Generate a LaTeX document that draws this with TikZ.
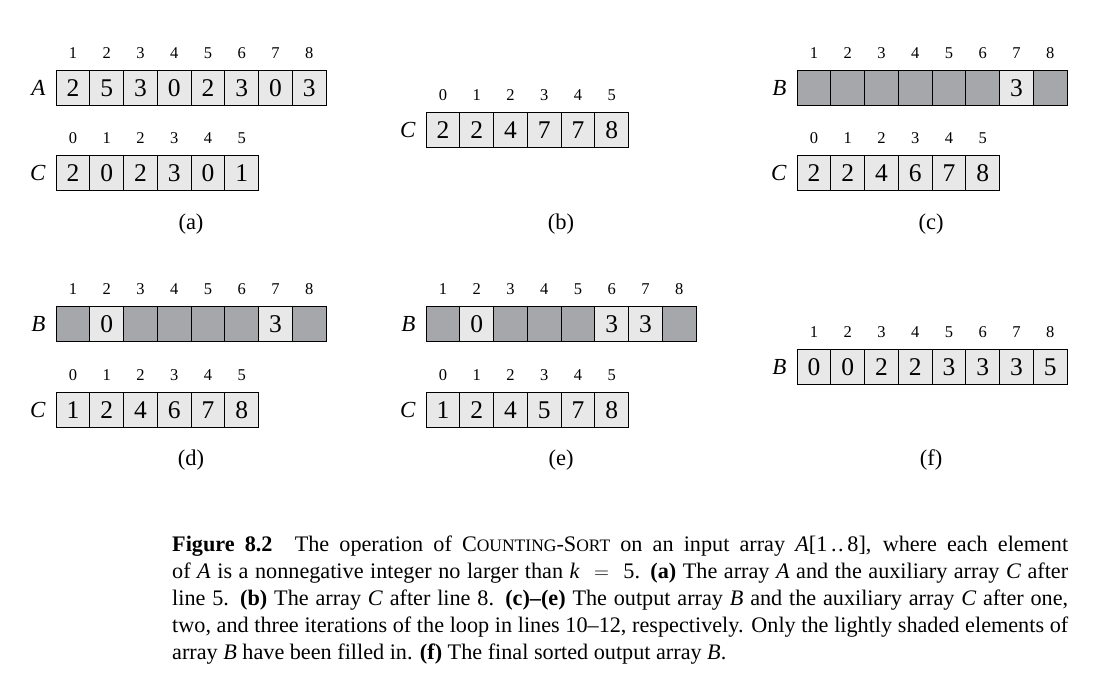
\documentclass[tikz,border=0pt]{standalone}
\usepackage{fontspec}
\setmainfont{Liberation Serif}
\usetikzlibrary{positioning}
\definecolor{cellfill}{HTML}{E8E8E8}
\definecolor{blankfill}{HTML}{A6A7AA}
\newcommand{\smcap}[1]{{\fontsize{17.5}{17.5}\selectfont #1}}

\begin{document}
\begin{tikzpicture}[
    x=1pt, y=-1pt,
    cell/.style={rectangle, draw, line width=0.8pt, fill=cellfill, minimum width=33.75pt, minimum height=34.5pt, inner sep=0pt, text height=17pt, text depth=0pt, font=\fontsize{25.5}{25.5}\selectfont},
    blank/.style={cell, fill=blankfill},
    idx/.style={inner sep=0pt, text height=11pt, text depth=0pt, font=\fontsize{16.5}{16.5}\selectfont},
    arrname/.style={inner sep=0pt, font=\fontsize{23}{23}\selectfont\itshape},
    sublabel/.style={inner sep=0pt, font=\fontsize{22.5}{22.5}\selectfont}
]
\useasboundingbox (0,0) rectangle (1113,688);

% (a) input array A and counts C
\foreach \v [count=\i] in {2,5,3,0,2,3,0,3}
  \node (aA\i) [cell] at ({56+33.75*(\i-0.5)},88) {\v};
\foreach \i in {1,...,8}
  \node [idx, above=12pt of aA\i.north] {\i};
\node [arrname, left=10pt of aA1] {A};
\foreach \v [count=\i from 0] in {2,0,2,3,0,1}
  \node (aC\i) [cell] at ({56+33.75*(\i+0.5)},173) {\v};
\foreach \i in {0,...,5}
  \node [idx, above=12pt of aC\i.north] {\i};
\node [arrname, left=10pt of aC0] {C};
\node (suba) [sublabel] at (191,224) {(a)};

% (b) running sums in C
\foreach \v [count=\i from 0] in {2,2,4,7,7,8}
  \node (bC\i) [cell] at ({426+33.75*(\i+0.5)},130) {\v};
\foreach \i in {0,...,5}
  \node [idx, above=12pt of bC\i.north] {\i};
\node [arrname, left=10pt of bC0] {C};
\node (subb) [sublabel] at (561,224) {(b)};

% (c) first iteration
\foreach \v/\s [count=\i] in {/blank,/blank,/blank,/blank,/blank,/blank,3/cell,/blank}
  \node (cB\i) [\s] at ({797+33.75*(\i-0.5)},88) {\v};
\foreach \i in {1,...,8}
  \node [idx, above=12pt of cB\i.north] {\i};
\node [arrname, left=10pt of cB1] {B};
\foreach \v [count=\i from 0] in {2,2,4,6,7,8}
  \node (cC\i) [cell] at ({797+33.75*(\i+0.5)},173) {\v};
\foreach \i in {0,...,5}
  \node [idx, above=12pt of cC\i.north] {\i};
\node [arrname, left=10pt of cC0] {C};
\node (subc) [sublabel] at (931,224) {(c)};

% (d) second iteration
\foreach \v/\s [count=\i] in {/blank,0/cell,/blank,/blank,/blank,/blank,3/cell,/blank}
  \node (dB\i) [\s] at ({56+33.75*(\i-0.5)},324) {\v};
\foreach \i in {1,...,8}
  \node [idx, above=12pt of dB\i.north] {\i};
\node [arrname, left=10pt of dB1] {B};
\foreach \v [count=\i from 0] in {1,2,4,6,7,8}
  \node (dC\i) [cell] at ({56+33.75*(\i+0.5)},410) {\v};
\foreach \i in {0,...,5}
  \node [idx, above=12pt of dC\i.north] {\i};
\node [arrname, left=10pt of dC0] {C};
\node (subd) [sublabel] at (191,460) {(d)};

% (e) third iteration
\foreach \v/\s [count=\i] in {/blank,0/cell,/blank,/blank,/blank,3/cell,3/cell,/blank}
  \node (eB\i) [\s] at ({426+33.75*(\i-0.5)},324) {\v};
\foreach \i in {1,...,8}
  \node [idx, above=12pt of eB\i.north] {\i};
\node [arrname, left=10pt of eB1] {B};
\foreach \v [count=\i from 0] in {1,2,4,5,7,8}
  \node (eC\i) [cell] at ({426+33.75*(\i+0.5)},410) {\v};
\foreach \i in {0,...,5}
  \node [idx, above=12pt of eC\i.north] {\i};
\node [arrname, left=10pt of eC0] {C};
\node (sube) [sublabel] at (561,460) {(e)};

% (f) sorted output
\foreach \v [count=\i] in {0,0,2,2,3,3,3,5}
  \node (fB\i) [cell] at ({797+33.75*(\i-0.5)},367) {\v};
\foreach \i in {1,...,8}
  \node [idx, above=12pt of fB\i.north] {\i};
\node [arrname, left=10pt of fB1] {B};
\node (subf) [sublabel] at (931,460) {(f)};

% Caption
\node (caption) [anchor=north west, text width=896pt, align=justify, inner sep=0pt,
  font=\fontsize{22.2}{27}\selectfont] at (172,536) {%
  \textbf{Figure 8.2}\quad The operation of C\smcap{OUNTING}-S\smcap{ORT} on an input array \textit{A}[1\thinspace.\kern1.5pt.\thinspace8], where each element\linebreak
  of \textit{A} is a nonnegative integer no larger than \textit{k} ${}={}$ 5. \textbf{(a)} The array \textit{A} and the auxiliary array \textit{C} after\linebreak
  line 5. \textbf{(b)} The array \textit{C} after line 8. \textbf{(c)--(e)} The output array \textit{B} and the auxiliary array \textit{C} after one,\linebreak
  two, and three iterations of the loop in lines 10--12, respectively. Only the lightly shaded elements of\linebreak
  array \textit{B} have been filled in. \textbf{(f)} The final sorted output array \textit{B}.};
\end{tikzpicture}
\end{document}
